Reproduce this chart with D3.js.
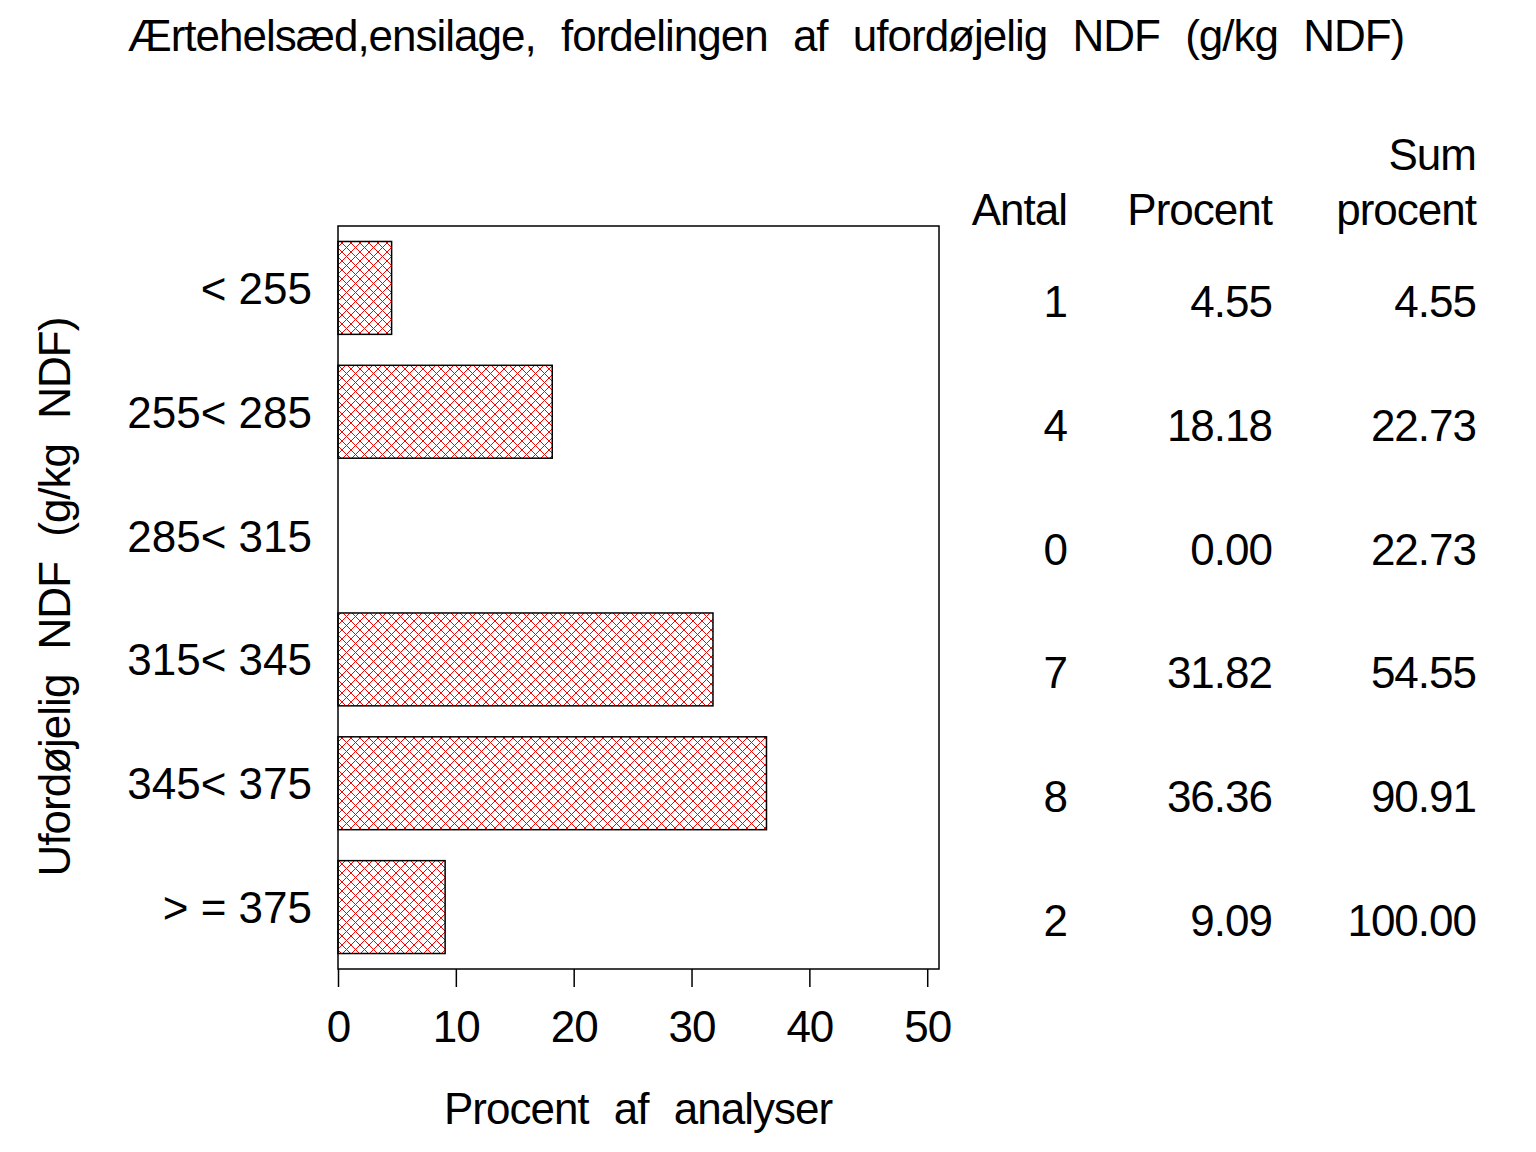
<html>
  <head>
    <script src="https://d3js.org/d3.v7.min.js"></script>
    <style>
      body { margin: 0; background: #fff; }
      text { font-family: "Liberation Sans", Arial, sans-serif; font-size: 44px; fill: #000; letter-spacing: -1px; }
      .cat { letter-spacing: 0px; }
      .words { word-spacing: 14px; }
    </style>
  </head>

  <body>
    <svg id="vis"></svg>
  </body>

  <script>
    // Data
    var categories = ["< 255", "255< 285", "285< 315", "315< 345", "345< 375", "> = 375"]
    var antal = [1, 4, 0, 7, 8, 2]
    var procent = [4.55, 18.18, 0.00, 31.82, 36.36, 9.09]
    var sumProcent = [4.55, 22.73, 22.73, 54.55, 90.91, 100.00]
    var xTicks = [0, 10, 20, 30, 40, 50]
    var tableHeaders = ["Antal", "Procent", "procent"]

    var W = 1536, H = 1152
    var frame = {left: 338, right: 939, top: 226, bottom: 969}

    var svg = d3.select('svg')
      .attr("width", W)
      .attr("height", H)

    // red cross-hatch fill
    var pat = svg.append("defs").append("pattern")
      .attr("id", "hatch")
      .attr("patternUnits", "userSpaceOnUse")
      .attr("width", 9)
      .attr("height", 9)
    pat.append("path")
      .attr("d", "M0,0L9,9M9,0L0,9")
      .attr("stroke", "#ff0000")
      .attr("stroke-width", 1)
      .attr("fill", "none")

    // scales
    var x = d3.scaleLinear().domain([0, 51]).range([frame.left, frame.right])
    var y = d3.scaleBand()
      .domain(categories)
      .range([frame.top, frame.bottom])
      .paddingInner(0.25)
      .paddingOuter(0.125)

    // title
    svg.append("text")
      .attr("class", "words")
      .attr("x", 766)
      .attr("y", 51)
      .attr("text-anchor", "middle")
      .text("Ærtehelsæd,ensilage, fordelingen af ufordøjelig NDF (g/kg NDF)")

    // bars
    var rows = categories.map(function(c, i){ return {cat: c, pct: procent[i], n: antal[i], sum: sumProcent[i]} })

    svg.append("g").selectAll("rect")
      .data(rows.filter(function(d){ return d.pct > 0 }))
      .enter()
      .append("rect")
      .attr("x", x(0))
      .attr("y", function(d){ return y(d.cat) })
      .attr("width", function(d){ return x(d.pct) - x(0) })
      .attr("height", y.bandwidth())
      .attr("fill", "url(#hatch)")
      .attr("stroke", "#000")
      .attr("stroke-width", 1.5)

    // frame
    svg.append("rect")
      .attr("x", frame.left)
      .attr("y", frame.top)
      .attr("width", frame.right - frame.left)
      .attr("height", frame.bottom - frame.top)
      .attr("fill", "none")
      .attr("stroke", "#000")
      .attr("stroke-width", 1.5)

    // x axis
    var xAxis = svg.append("g")
      .attr("transform", "translate(0," + frame.bottom + ")")
      .call(d3.axisBottom(x).tickValues(xTicks).tickSize(18).tickPadding(0))
    xAxis.select(".domain").remove()
    xAxis.attr("font-size", null).attr("font-family", null)
    xAxis.selectAll(".tick line").attr("stroke", "#000").attr("stroke-width", 1.5)
    xAxis.selectAll(".tick text")
      .attr("y", 73)
      .attr("dy", null)

    // y category labels
    svg.append("g").selectAll("text")
      .data(categories)
      .enter()
      .append("text")
      .attr("class", "cat")
      .attr("x", 312)
      .attr("y", function(d){ return y(d) + y.bandwidth() / 2 + 16 })
      .attr("text-anchor", "end")
      .text(function(d){ return d })

    // axis titles
    svg.append("text")
      .attr("class", "words")
      .attr("x", 638)
      .attr("y", 1124)
      .attr("text-anchor", "middle")
      .text("Procent af analyser")

    svg.append("text")
      .attr("class", "words")
      .attr("transform", "translate(70,597) rotate(-90)")
      .attr("text-anchor", "middle")
      .text("Ufordøjelig NDF (g/kg NDF)")

    // statistics table
    var colX = [1067, 1272, 1476]
    svg.append("text")
      .attr("x", colX[2]).attr("y", 170)
      .attr("text-anchor", "end")
      .text("Sum")
    tableHeaders.forEach(function(h, i){
      svg.append("text")
        .attr("x", colX[i]).attr("y", 225)
        .attr("text-anchor", "end")
        .text(h)
    })

    var tbl = svg.append("g").selectAll("g")
      .data(rows)
      .enter()
      .append("g")
      .attr("transform", function(d){ return "translate(0," + (y(d.cat) + y.bandwidth() / 2 + 29) + ")" })
    tbl.append("text").attr("x", colX[0]).attr("text-anchor", "end").text(function(d){ return d.n })
    tbl.append("text").attr("x", colX[1]).attr("text-anchor", "end").text(function(d){ return d.pct.toFixed(2) })
    tbl.append("text").attr("x", colX[2]).attr("text-anchor", "end").text(function(d){ return d.sum.toFixed(2) })
  </script>
</html>
